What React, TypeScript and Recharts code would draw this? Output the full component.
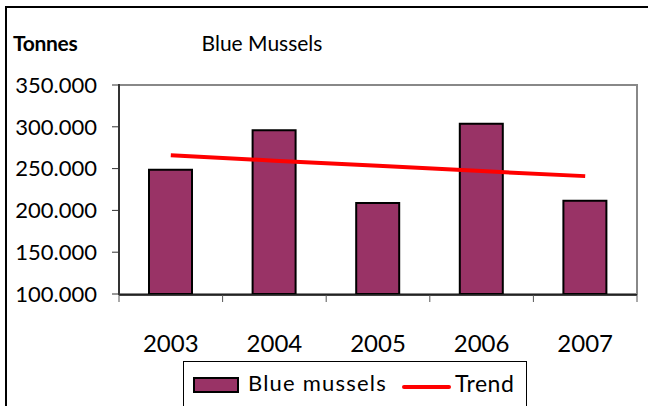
import React from 'react';
import { ComposedChart, Bar, Line, XAxis, YAxis, ReferenceArea } from 'recharts';

const years = ['2003', '2004', '2005', '2006', '2007'];
const mussels = [248700, 295800, 208900, 303700, 211600];
const trend = [266000, 259500, 253500, 247000, 241000];
const yTicks = [100000, 150000, 200000, 250000, 300000, 350000];
const edgeTicks = [0, 1, 2, 3, 4, 5];

const chartData = years.map((year, i) => ({
  year,
  idx: i + 0.5,
  mussels: mussels[i],
  trend: trend[i],
}));

const FONT = 'Lato, "Open Sans", sans-serif';

const fmt = (v: number) => v.toLocaleString('de-DE');

export default function App() {
  return (
    <div style={{ position: 'absolute', left: 0, top: 0, width: 648, height: 406, overflow: 'hidden', background: '#fff', fontFamily: FONT }}>
      {/* outer chart frame */}
      <div style={{ position: 'absolute', left: 5, top: 6, width: 700, height: 500, border: '2px solid #000', boxSizing: 'border-box' }} />
      <div style={{ position: 'absolute', left: 13, top: 30, fontSize: 21, fontWeight: 700, color: '#000', letterSpacing: -0.3 }}>Tonnes</div>
      <div style={{ position: 'absolute', left: 190, width: 144, textAlign: 'center', top: 30, fontSize: 21, color: '#000' }}>Blue Mussels</div>

      <ComposedChart
        width={648}
        height={406}
        data={chartData}
        margin={{ top: 85, right: 11, bottom: 52, left: 0 }}
        style={{ position: 'absolute', left: 0, top: 0 }}
      >
        <XAxis
          dataKey="year"
          height={1}
          axisLine={false}
          tickLine={false}
          tickSize={0}
          tickMargin={41}
          tick={{ fontSize: 24, fill: '#000', fontFamily: FONT }}
        />
        <XAxis
          xAxisId="edges"
          type="number"
          dataKey="idx"
          domain={[0, 5]}
          ticks={edgeTicks}
          height={59}
          tickFormatter={() => ''}
          axisLine={{ stroke: '#000', strokeWidth: 1.5 }}
          tickLine={{ stroke: '#555' }}
          tickSize={7}
          allowDataOverflow
        />
        <YAxis
          domain={[100000, 350000]}
          ticks={yTicks}
          width={119}
          tickFormatter={fmt}
          axisLine={false}
          tickLine={{ stroke: '#333' }}
          tickSize={7}
          tickMargin={15}
          tick={{ fontSize: 22, fill: '#000', fontFamily: FONT }}
          allowDataOverflow
        />
        <ReferenceArea y1={100000} y2={350000} fill="none" stroke="#888" strokeWidth={2} ifOverflow="visible" />
        <Bar dataKey="mussels" fill="#993366" stroke="#000" strokeWidth={2} barSize={43} isAnimationActive={false} />
        <Line dataKey="trend" stroke="#ff0000" strokeWidth={4} dot={false} isAnimationActive={false} />
        {/* invisible series that binds the boundary-tick axis */}
        <Line xAxisId="edges" dataKey="trend" stroke="none" dot={false} activeDot={false} legendType="none" isAnimationActive={false} />
      </ComposedChart>

      {/* solid left axis drawn over the area outline */}
      <div style={{ position: 'absolute', left: 118, top: 84, width: 1.5, height: 211, background: '#333' }} />

      {/* legend */}
      <div style={{ position: 'absolute', left: 183, top: 361, width: 344, height: 70, border: '1px solid #000', boxSizing: 'border-box' }}>
        <div style={{ position: 'absolute', left: 9, top: 15, width: 46, height: 16, background: '#993366', border: '2px solid #000', boxSizing: 'border-box' }} />
        <div style={{ position: 'absolute', left: 64, top: 7, fontSize: 22, color: '#000', letterSpacing: 1.2 }}>Blue mussels</div>
        <div style={{ position: 'absolute', left: 218, top: 23, width: 49, height: 4, background: '#ff0000', borderRadius: 2 }} />
        <div style={{ position: 'absolute', left: 271, top: 7, fontSize: 23, color: '#000', letterSpacing: 0.5 }}>Trend</div>
      </div>
    </div>
  );
}
